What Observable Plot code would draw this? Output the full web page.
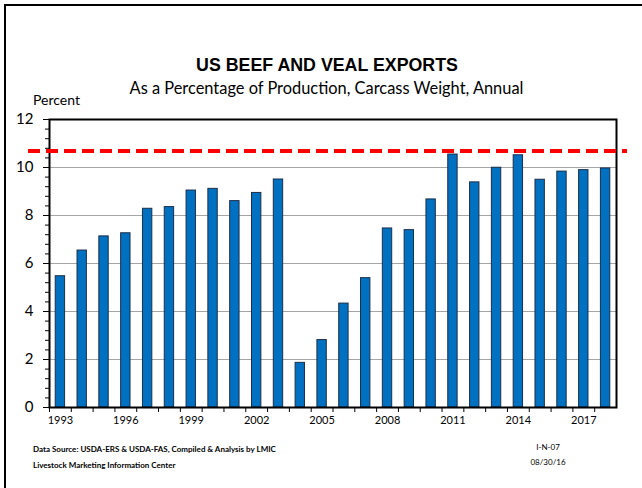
<!DOCTYPE html>
<html><head><meta charset="utf-8">
<script src="https://cdn.jsdelivr.net/npm/d3@7"></script>
<script src="https://cdn.jsdelivr.net/npm/@observablehq/plot@0.6"></script>
<style>
body{margin:0;background:#fff;}
#wrap{position:relative;width:642px;height:488px;overflow:hidden;font-family:Lato,"Open Sans",sans-serif;color:#000;background:#fff;}
.t{position:absolute;white-space:nowrap;}
#bl{position:absolute;left:4px;top:4px;width:2px;height:484px;background:#000;}
#bt{position:absolute;left:4px;top:4px;width:638px;height:2px;background:#000;}
#chart{position:absolute;left:0;top:110px;}
</style></head>
<body>
<div id="wrap">
  <div id="bl"></div><div id="bt"></div>
  <div class="t" id="title" style="left:0;width:654px;text-align:center;top:56px;font:bold 17.8px 'Liberation Sans',Arial,sans-serif;line-height:19px;"></div>
  <div class="t" id="subtitle" style="left:0;width:653px;text-align:center;top:79px;font-size:16.4px;line-height:18px;"></div>
  <div class="t" id="ylabel" style="left:33px;top:92px;font-size:14px;line-height:16px;"></div>
  <div id="chart"></div>
  <div class="t" id="src1" style="left:33px;top:444px;font-size:8px;font-weight:bold;line-height:10px;"></div>
  <div class="t" id="src2" style="left:33px;top:460px;font-size:8px;font-weight:bold;line-height:10px;"></div>
  <div class="t" id="code1" style="left:508px;width:80px;text-align:center;top:442px;font-size:8px;line-height:10px;"></div>
  <div class="t" id="code2" style="left:508px;width:80px;text-align:center;top:457px;font-size:8px;line-height:10px;"></div>
</div>
<script>
const years = d3.range(1993, 2019);
const percent = [5.47, 6.54, 7.13, 7.26, 8.28, 8.35, 9.04, 9.11, 8.60, 8.94, 9.50,
  1.86, 2.81, 4.33, 5.39, 7.46, 7.39, 8.67, 10.54, 9.38, 9.99, 10.51, 9.49, 9.83, 9.89, 9.96];
const refLine = [10.69];
const labelYears = [1993, 1996, 1999, 2002, 2005, 2008, 2011, 2014, 2017];
const yMajor = [0, 2, 4, 6, 8, 10, 12];
const yGrid = [2, 4, 6, 8, 10];
const yMinor = d3.range(0, 31).map(i => i * 0.4);

const titleText = "US BEEF AND VEAL EXPORTS";
const subtitleText = "As a Percentage of Production, Carcass Weight, Annual";
const yLabelText = "Percent";
const source1 = "Data Source:  USDA-ERS & USDA-FAS, Compiled & Analysis by LMIC";
const source2 = "Livestock Marketing Information Center";
const codeText = "I-N-07";
const dateText = "08/30/16";

document.getElementById("title").textContent = titleText;
document.getElementById("subtitle").textContent = subtitleText;
document.getElementById("ylabel").textContent = yLabelText;
document.getElementById("src1").textContent = source1;
document.getElementById("src2").textContent = source2;
document.getElementById("code1").textContent = codeText;
document.getElementById("code2").textContent = dateText;

const data = years.map((y, i) => ({year: y, value: percent[i]}));

const W = 642, mL = 49, mR = 26;
const pi = 0.57, po = 0.285;
const step = (W - mL - mR) / (years.length - pi + 2 * po);

const chart = Plot.plot({
  width: W, height: 320,
  marginLeft: mL, marginRight: mR, marginTop: 9, marginBottom: 23,
  style: {fontFamily: "Lato, 'Open Sans', sans-serif", color: "#000", background: "transparent", overflow: "visible"},
  x: {type: "band", domain: years, paddingInner: pi, paddingOuter: po, round: false, label: null},
  y: {domain: [0, 12], label: null},
  marks: [
    Plot.gridY(yGrid, {stroke: "#a6a6a6", strokeOpacity: 1, strokeWidth: 1}),
    Plot.barY(data, {x: "year", y: "value", fill: "#0070C0", stroke: "#1c2f4a", strokeWidth: 1}),
    Plot.axisX({ticks: labelYears, tickSize: 0, tickPadding: 9, fontSize: 11, tickFormat: d => String(d)}),
    Plot.axisX({ticks: years, tickSize: 5, tickFormat: () => "", dx: -step / 2, strokeWidth: 1}),
    Plot.axisY({ticks: yMajor, tickSize: 6, tickPadding: 10, fontSize: 15, strokeWidth: 1}),
    Plot.axisY({ticks: yMinor, tickSize: 4, tickFormat: () => "", strokeWidth: 1}),
    Plot.frame({stroke: "#000", strokeWidth: 2}),
    Plot.ruleY(refLine, {stroke: "#ff0000", strokeWidth: 4, strokeDasharray: "12,6", insetLeft: -21, insetRight: -11})
  ]
});
document.getElementById("chart").appendChild(chart);
</script>
</body></html>
